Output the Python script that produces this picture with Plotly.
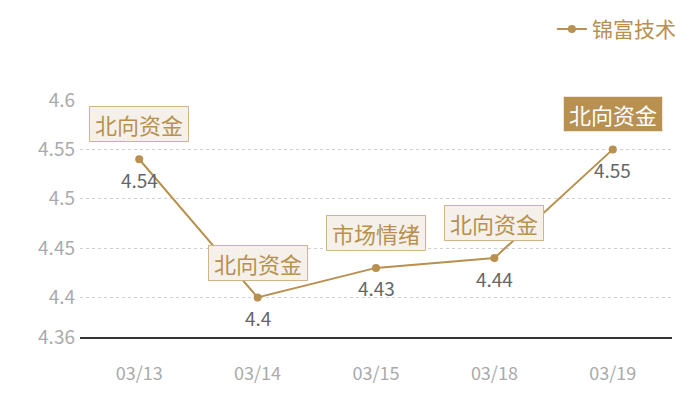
import plotly.graph_objects as go

dates = ["03/13", "03/14", "03/15", "03/18", "03/19"]
values = [4.54, 4.4, 4.43, 4.44, 4.55]
tags = ["北向资金", "北向资金", "市场情绪", "北向资金", "北向资金"]
highlight = [False, False, False, False, True]
y_ticks = [4.36, 4.4, 4.45, 4.5, 4.55, 4.6]
y_tick_text = ["4.36", "4.4", "4.45", "4.5", "4.55", "4.6"]
series_name = "锦富技术"

gold = "#b8904f"
font_family = "Noto Sans CJK SC, Noto Sans, sans-serif"

fig = go.Figure()
fig.add_trace(go.Scatter(
    x=dates, y=values, name=series_name,
    mode="lines+markers",
    line=dict(color=gold, width=2),
    marker=dict(color=gold, size=8),
    cliponaxis=False,
))

for d, v, t, h in zip(dates, values, tags, highlight):
    fig.add_annotation(
        x=d, y=v, xref="x", yref="y", text=t, showarrow=False,
        yshift=35, width=96, height=32, borderpad=1,
        font=dict(size=22, color="#ffffff" if h else gold, family=font_family),
        bgcolor=gold if h else "#f5f0ea",
        bordercolor="#f0e6d8" if h else "#d2b48a", borderwidth=1,
    )
    fig.add_annotation(
        x=d, y=v, xref="x", yref="y", text=str(v), showarrow=False,
        yshift=-20, font=dict(size=19, color="#666666", family=font_family),
    )

fig.update_layout(
    width=700, height=400,
    margin=dict(l=72, r=36, t=92, b=71, autoexpand=False),
    paper_bgcolor="white", plot_bgcolor="white",
    font=dict(family=font_family),
    showlegend=True,
    legend=dict(x=1.015, y=1.385, xanchor="right", yanchor="top",
                font=dict(size=21, color=gold, family=font_family),
                bgcolor="rgba(0,0,0,0)", itemwidth=30,
                borderwidth=0),
    xaxis=dict(type="category", showgrid=False, showline=True,
               linecolor="#333333", linewidth=1.5, ticks="",
               ticklabelstandoff=20,
               tickfont=dict(size=18, color="#aaaaaa", family=font_family),
               range=[-0.5, len(dates) - 0.5]),
    yaxis=dict(range=[4.36, 4.6], tickvals=y_ticks, ticktext=y_tick_text,
               showgrid=True, gridcolor="#d0d0d0", griddash="dot",
               zeroline=False, showline=False, ticks="",
               ticklabelstandoff=4,
               tickfont=dict(size=19, color="#aaaaaa", family=font_family)),
)

fig.write_html("out.html")
